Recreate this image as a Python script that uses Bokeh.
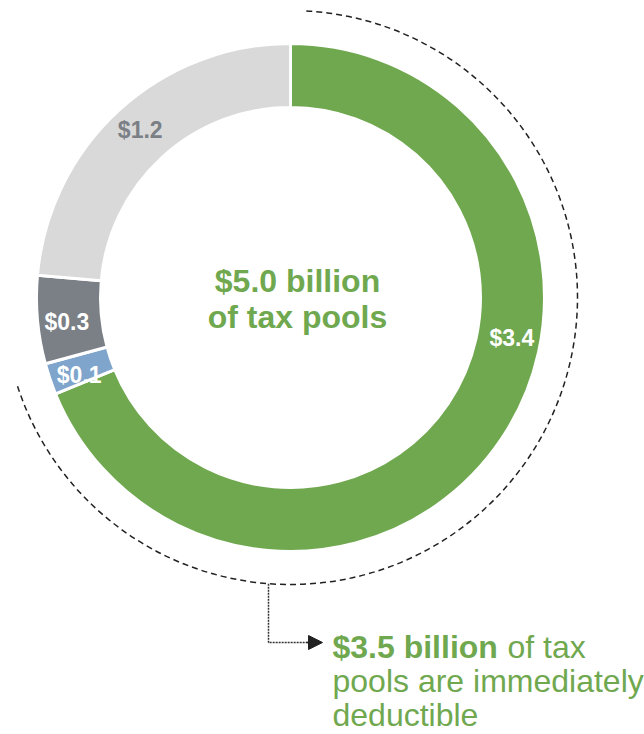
import numpy as np
from bokeh.plotting import figure
from bokeh.models import Range1d, ColumnDataSource, Arrow, NormalHead
from bokeh.core.properties import value
from bokeh.embed import file_html
from bokeh.resources import INLINE

# ---- data ----
categories = ["Immediately deductible A", "Immediately deductible B", "Other pools C", "Other pools D"]
values = [3.44, 0.10, 0.28, 1.18]
labels = ["$3.4", "$0.1", "$0.3", "$1.2"]
colors = ["#70A84F", "#7FA5CC", "#7B7F86", "#D9D9D9"]
label_colors = ["white", "white", "white", "#7B7F86"]
label_angles = [-10.3, 200.1, 186.3, 131.9]
center_title = ["$5.0 billion", "of tax pools"]
deductible_total = 3.5
note_bold = "$3.5 billion"
note_lines = ["of tax", "pools are immediately", "deductible"]

GREEN = "#70A84F"
FONT = value("Liberation Sans")

W, H = 644, 734
def Y(py):
    return H - py

p = figure(width=W, height=H, output_backend="svg", toolbar_location=None,
           x_range=Range1d(0, W), y_range=Range1d(0, H),
           x_axis_type=None, y_axis_type=None, min_border=0)
p.grid.visible = False
p.outline_line_color = None
p.background_fill_color = "white"

cx, cy = 290, Y(297)
r_in, r_out = 190, 254

vals = np.array(values, dtype=float)
total = vals.sum()
cum = np.concatenate([[0], np.cumsum(vals)])
start_deg = 90 - cum[:-1] / total * 360
end_deg = 90 - cum[1:] / total * 360

src = ColumnDataSource(dict(cat=categories, start=np.radians(end_deg), end=np.radians(start_deg),
                            color=colors))
p.annular_wedge(x=cx, y=cy, inner_radius=r_in, outer_radius=r_out,
                start_angle="start", end_angle="end", color="color",
                line_color="white", line_width=3, source=src)

# slice labels
lr = 225
la = np.radians(label_angles)
lsrc = ColumnDataSource(dict(x=cx + lr * np.cos(la), y=cy + lr * np.sin(la),
                             text=labels, color=label_colors))
p.text(x="x", y="y", text="text", text_color="color", source=lsrc,
       text_font=FONT, text_font_style="bold", text_font_size="23px",
       text_align="center", text_baseline="middle")

# text lines are placed by their vertical middle (baseline - 12px at 32px)
MID = 12

# center title
p.text(x=[297, 297], y=[Y(292 - MID), Y(328 - MID)], text=center_title, text_color=GREEN,
       text_font=FONT, text_font_style="bold", text_font_size="32px",
       text_align="center", text_baseline="middle")

# dashed arc around deductible share
arc_r = 287
arc_end = 90 - deductible_total / total * 360
p.arc(x=cx, y=cy, radius=arc_r, start_angle=np.radians(arc_end), end_angle=np.radians(87.5),
      direction="anticlock", line_color="#222222", line_width=1.5, line_dash="6 4")

# connector
vx = 268
vy0 = cy - np.sqrt(arc_r ** 2 - (vx - cx) ** 2)
p.line(x=[vx, vx, 310], y=[vy0, Y(642), Y(642)], line_color="#333333",
       line_width=1.5, line_dash="2 1")
p.add_layout(Arrow(end=NormalHead(size=14, fill_color="#222222", line_color="#222222"),
                   x_start=306, y_start=Y(642), x_end=322, y_end=Y(642),
                   line_color="#222222", line_width=1.5))

# note text
p.text(x=[332], y=[Y(658 - MID)], text=[note_bold], text_color=GREEN, text_font=FONT,
       text_font_style="bold", text_font_size="32px", text_align="left",
       text_baseline="middle")
p.text(x=[507, 332, 332], y=[Y(658 - MID), Y(692 - MID), Y(726 - MID)], text=note_lines,
       text_color=GREEN, text_font=FONT, text_font_size="32px", text_align="left",
       text_baseline="middle")

open("out.html", "w").write(file_html(p, INLINE))
